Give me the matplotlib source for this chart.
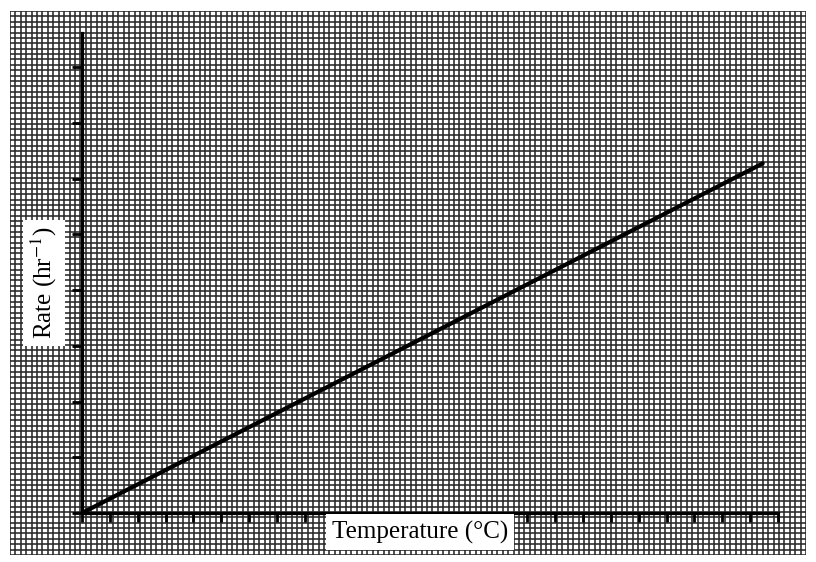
import numpy as np
import matplotlib
matplotlib.use('Agg')
import matplotlib.pyplot as plt

# data (axes have no numbers, units = tick steps)
temperature = [0, 24.45]
rate = [0, 6.27]
x_ticks = list(range(0, 26))
y_ticks = list(range(0, 9))

plt.rcParams['font.family'] = ['Liberation Serif', 'DejaVu Serif']
plt.rcParams['mathtext.fontset'] = 'stix'

W, H = 816, 562
fig = plt.figure(figsize=(W/100, H/100), dpi=100)
fig.patch.set_facecolor('white')

#------------------------------------------------------------------------------
# graph paper behind everything
bg = fig.add_axes([10/W, 7/H, 796/W, 544/H], zorder=0)
nx, ny = 147, 101
bg.set_xlim(0, nx); bg.set_ylim(0, ny)
bg.vlines(np.arange(0, nx+1), 0, ny, color='#282828', linewidth=1.15)
bg.hlines(np.arange(0, ny+1), 0, nx, color='#282828', linewidth=1.15)
bg.set_facecolor('#eeeeee')
bg.axis('off')

#------------------------------------------------------------------------------
ax = fig.add_axes([82/W, 49/H, 696/W, 480/H], zorder=1)
ax.patch.set_alpha(0)
ax.set_xlim(0, 25)
ax.set_ylim(0, 480/55.75)
for s in ['top', 'right']:
    ax.spines[s].set_visible(False)
for s in ['left', 'bottom']:
    ax.spines[s].set_linewidth(2.3)
    ax.spines[s].set_color('black')
ax.plot(temperature, rate, color='black', linewidth=3.0, solid_capstyle='round')
ax.set_xticks(x_ticks)
ax.set_yticks(y_ticks)
ax.set_xticklabels([]); ax.set_yticklabels([])
ax.tick_params(axis='x', direction='out', length=6.5, width=2.0, color='black')
ax.tick_params(axis='y', direction='out', length=7.5, width=2.0, color='black')
for t in ax.xaxis.get_major_ticks() + ax.yaxis.get_major_ticks():
    t.tick1line.set_clip_on(False)

box = dict(facecolor='white', edgecolor='none', boxstyle='square,pad=0.25')
fig.text(420/W, 1-532/H, 'Temperature (°C)', fontsize=18, ha='center', va='center',
         bbox=box, zorder=3)
fig.text(44/W, 1-283/H, r'Rate (hr$^{-1}$)', fontsize=18, ha='center', va='center',
         rotation=90, bbox=box, zorder=3)

fig.savefig('out.png', dpi=100, facecolor='white')
